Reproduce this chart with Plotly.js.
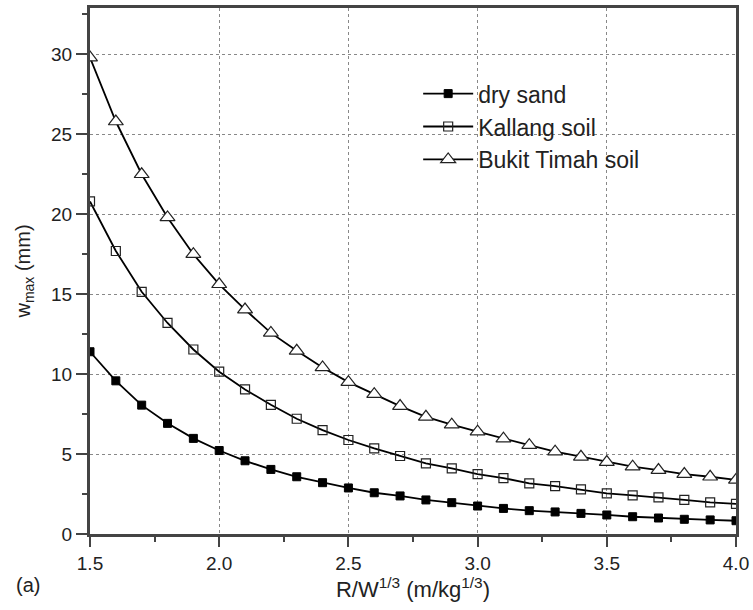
<!DOCTYPE html>
<html>
<head>
<meta charset="utf-8">
<script src="https://cdn.plot.ly/plotly-3.0.1.min.js"></script>
<style>html,body{margin:0;padding:0;background:#fff;}#chart{width:753px;height:610px;}</style>
</head>
<body>
<div id="chart"></div>
<script>
var xValues = [1.5,1.6,1.7,1.8,1.9,2.0,2.1,2.2,2.3,2.4,2.5,2.6,2.7,2.8,2.9,3.0,3.1,3.2,3.3,3.4,3.5,3.6,3.7,3.8,3.9,4.0];
var drySand = [11.4,9.58,8.06,6.92,5.98,5.22,4.58,4.04,3.58,3.21,2.88,2.58,2.38,2.13,1.96,1.75,1.6,1.46,1.38,1.29,1.19,1.08,1.0,0.92,0.88,0.83];
var kallang = [20.8,17.7,15.15,13.2,11.54,10.15,9.04,8.08,7.21,6.5,5.88,5.35,4.88,4.42,4.1,3.75,3.5,3.17,3.0,2.79,2.54,2.42,2.29,2.13,1.98,1.88];
var bukitTimah = [29.8,25.8,22.5,19.8,17.5,15.62,14.04,12.58,11.46,10.42,9.5,8.75,8.0,7.33,6.84,6.4,5.96,5.56,5.15,4.83,4.5,4.21,4.0,3.75,3.58,3.38];
var seriesNames = ["dry sand","Kallang soil","Bukit Timah soil"];
var xTickVals = [1.5,2.0,2.5,3.0,3.5,4.0];
var xTickText = ["1.5","2.0","2.5","3.0","3.5","4.0"];
var xMinorVals = [1.75,2.25,2.75,3.25,3.75];
var yTickVals = [0,5,10,15,20,25,30];
var yMinorVals = [2.5,7.5,12.5,17.5,22.5,27.5,32.5];

var font = "Liberation Sans, Arial, Helvetica, sans-serif";
var txt = "#222";
var axisCol = "#444";

var traces = [
  {x: xValues, y: drySand, name: seriesNames[0], type: "scatter", mode: "lines+markers",
   line: {color: "#000", width: 1.8},
   marker: {symbol: "square", size: 8, color: "#000", line: {color: "#000", width: 1}}},
  {x: xValues, y: kallang, name: seriesNames[1], type: "scatter", mode: "lines+markers",
   line: {color: "#000", width: 1.8},
   marker: {symbol: "square-open", size: 9, color: "#222", line: {color: "#222", width: 1.2}}},
  {x: xValues, y: bukitTimah, name: seriesNames[2], type: "scatter", mode: "lines+markers",
   line: {color: "#000", width: 1.8},
   marker: {symbol: "triangle-up", size: 13, color: "#fff", line: {color: "#222", width: 1.2}}}
];

var layout = {
  width: 753, height: 610,
  margin: {l: 90, r: 17, t: 8, b: 76, pad: 0},
  paper_bgcolor: "#fff", plot_bgcolor: "#fff",
  font: {family: font, size: 19, color: txt},
  showlegend: true,
  legend: {x: 0.508, y: 0.878, xanchor: "left", yanchor: "top",
           bgcolor: "rgba(0,0,0,0)", borderwidth: 0,
           font: {family: font, size: 23, color: txt}, itemwidth: 50, tracegroupgap: 0},
  xaxis: {
    range: [1.5, 4.0], tickmode: "array", tickvals: xTickVals, ticktext: xTickText,
    ticks: "outside", ticklen: 10, tickwidth: 2, tickcolor: axisCol,
    showline: true, linewidth: 3, linecolor: axisCol, mirror: true,
    showgrid: true, gridcolor: "#888", griddash: "dot", gridwidth: 1,
    zeroline: false,
    minor: {tickmode: "array", tickvals: xMinorVals, ticks: "outside", ticklen: 5, tickwidth: 2, tickcolor: axisCol, showgrid: false},
    tickfont: {family: font, size: 19, color: txt},
    title: {text: "R/W<sup>1/3</sup> (m/kg<sup>1/3</sup>)", font: {family: font, size: 22, color: txt}, standoff: 6},
    automargin: false
  },
  yaxis: {
    range: [0, 32.9], tickmode: "array", tickvals: yTickVals,
    ticks: "outside", ticklen: 11, tickwidth: 2, tickcolor: axisCol,
    showline: true, linewidth: 3, linecolor: axisCol, mirror: true,
    showgrid: true, gridcolor: "#888", griddash: "dot", gridwidth: 1,
    zeroline: false,
    minor: {tickmode: "array", tickvals: yMinorVals, ticks: "outside", ticklen: 5, tickwidth: 2, tickcolor: axisCol, showgrid: false},
    tickfont: {family: font, size: 19, color: txt},
    title: {text: "w<sub>max</sub> (mm)", font: {family: font, size: 20, color: txt}, standoff: 16},
    automargin: false
  },
  annotations: [
    {text: "(a)", xref: "paper", yref: "paper", x: -0.117, y: -0.097, xanchor: "left", yanchor: "middle",
     showarrow: false, font: {family: font, size: 20, color: txt}}
  ]
};

Plotly.newPlot("chart", traces, layout, {displayModeBar: false, staticPlot: true});
</script>
</body>
</html>
